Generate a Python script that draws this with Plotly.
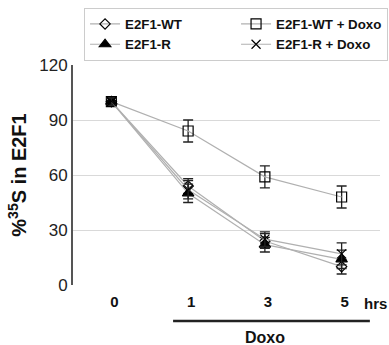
import plotly.graph_objects as go

time_labels = ["0", "1", "3", "5"]
x_idx = [0, 1, 2, 3]

wt = [100, 54, 24, 10]
wt_err = [2, 4, 4, 4]
r = [100, 50, 22, 14]
r_err = [2, 5, 4, 5]
wt_doxo = [100, 84, 59, 48]
wt_doxo_err = [2, 6, 6, 6]
r_doxo = [100, 52, 25, 17]
r_doxo_err = [2, 5, 4, 6]

FONT = "Liberation Sans, Arial, sans-serif"
LINE = "#b0b0b0"

def tr(name, y, err, symbol, size):
    return go.Scatter(
        x=x_idx, y=y, name=name, mode="lines+markers",
        line=dict(color=LINE, width=1.2),
        marker=dict(symbol=symbol, size=size, color="black",
                    line=dict(color="black", width=1.2)),
        error_y=dict(type="data", array=err, color="#222", thickness=1.3, width=5),
    )

fig = go.Figure()
fig.add_trace(tr("E2F1-WT", wt, wt_err, "diamond-open", 8))
fig.add_trace(tr("E2F1-WT + Doxo", wt_doxo, wt_doxo_err, "square-open", 10))
fig.add_trace(tr("E2F1-R", r, r_err, "triangle-up", 10))
fig.add_trace(tr("E2F1-R + Doxo", r_doxo, r_doxo_err, "x-thin-open", 9))

fig.update_layout(
    width=389, height=345,
    margin=dict(l=73, r=9, t=65, b=60, autoexpand=False),
    plot_bgcolor="white", paper_bgcolor="white",
    font=dict(family=FONT, color="#111"),
    showlegend=True,
    legend=dict(
        orientation="h", x=0.036, y=1.26, xanchor="left", yanchor="top",
        entrywidth=106, entrywidthmode="pixels",
        bordercolor="#cccccc", borderwidth=1,
        font=dict(size=13.3, family=FONT, color="#111", weight="bold"),
        itemwidth=30, tracegroupgap=0,
    ),
    xaxis=dict(
        range=[-0.5, 3.5], tickmode="array", tickvals=x_idx, ticktext=time_labels,
        showgrid=False, zeroline=False, showline=False, ticks="", automargin=False,
        ticklabelstandoff=6, ticklabelshift=3,
        tickfont=dict(size=15, family=FONT, color="#111", weight="bold"),
    ),
    yaxis=dict(
        range=[0, 120], tickvals=[0, 30, 60, 90, 120], automargin=False,
        showgrid=True, gridcolor="#d9d9d9", gridwidth=1,
        zeroline=False, showline=True, linecolor="#555", linewidth=2,
        ticks="", tickfont=dict(size=17, family=FONT, color="#222"),
        title=dict(text="%<sup>35</sup>S in E2F1",
                   font=dict(size=20, family=FONT, color="#111", weight="bold"),
                   standoff=7),
    ),
)

fig.add_annotation(xref="paper", yref="paper", x=0.985, y=-0.085, text="<b>hrs</b>",
                   showarrow=False, font=dict(size=15, family=FONT, color="#111"),
                   xanchor="center", yanchor="middle")
fig.add_shape(type="line", xref="paper", yref="paper", x0=0.326, x1=0.967,
              y0=-0.164, y1=-0.164, line=dict(color="#222", width=2.5))
fig.add_annotation(xref="paper", yref="paper", x=0.625, y=-0.24, text="<b>Doxo</b>",
                   showarrow=False, font=dict(size=16, family=FONT, color="#111"),
                   xanchor="center", yanchor="middle")

fig.write_html("out.html", config={"displayModeBar": False},
               post_script="document.body.style.margin='0';")
